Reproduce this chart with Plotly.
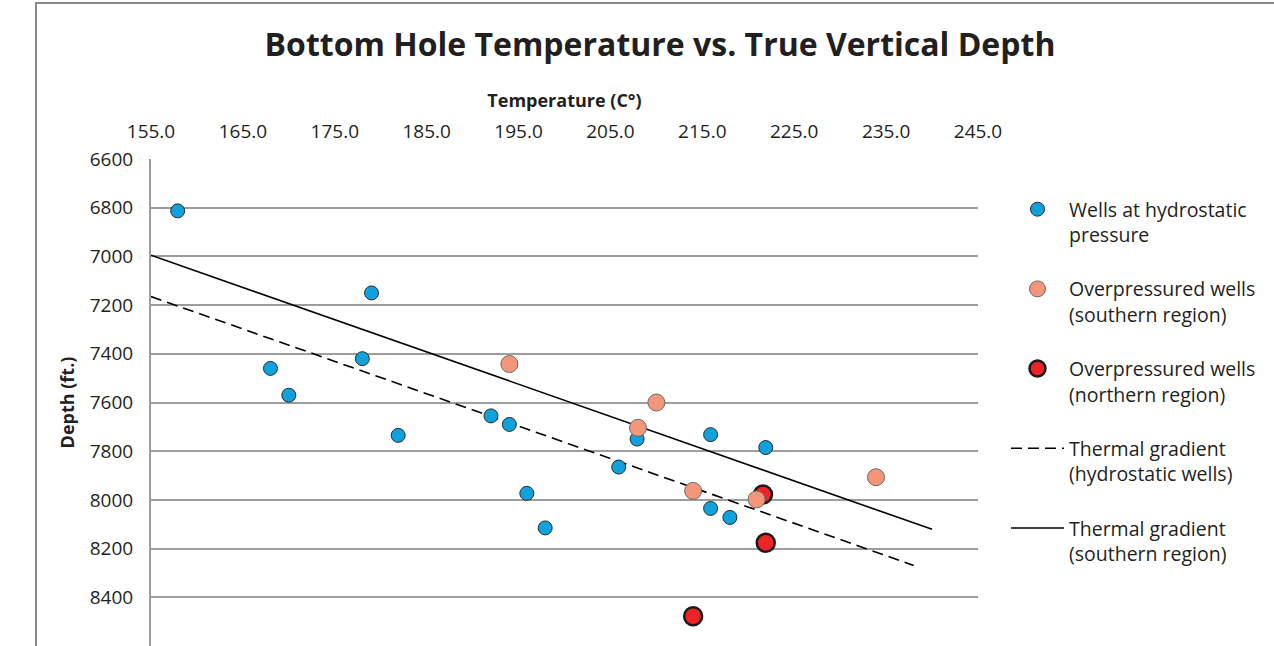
import plotly.graph_objects as go

# ---- data ----
hydro_temp = [157.9, 179.0, 168.0, 178.0, 170.0, 181.9, 192.0, 194.0, 195.9, 197.9,
              205.9, 207.9, 215.9, 221.9, 215.9, 218.0]
hydro_depth = [6813, 7150, 7460, 7420, 7570, 7735, 7655, 7690, 7973, 8115,
               7865, 7750, 7732, 7785, 8035, 8072]

south_temp = [194.0, 210.0, 208.0, 214.0, 220.9, 233.9]
south_depth = [7442, 7600, 7704, 7963, 7998, 7907]

north_temp = [221.6, 221.9, 214.0]
north_depth = [7978, 8176, 8478]

grad_hydro_temp = [155.0, 238.0]
grad_hydro_depth = [7165, 8269]

grad_south_temp = [155.0, 240.0]
grad_south_depth = [6995, 8121]

x_ticks = [155, 165, 175, 185, 195, 205, 215, 225, 235, 245]
y_ticks = [6600, 6800, 7000, 7200, 7400, 7600, 7800, 8000, 8200, 8400, 8600]

FONT = "Open Sans"
W, H = 1274, 646
L, R, T, B = 151, 296, 159, 0
pw, ph = W - L - R, H - T - B

def px(xp):
    return (xp - L) / pw

def py(yp):
    return (H - B - yp) / ph

fig = go.Figure()

fig.add_trace(go.Scatter(
    x=grad_hydro_temp, y=grad_hydro_depth, mode="lines",
    name="Thermal gradient<br>(hydrostatic wells)",
    line=dict(color="black", width=1.6, dash="11px,6px"),
    legendrank=4, legendgroup="d"))
fig.add_trace(go.Scatter(
    x=grad_south_temp, y=grad_south_depth, mode="lines",
    name="Thermal gradient<br>(southern region)",
    line=dict(color="black", width=1.6),
    legendrank=5, legendgroup="e"))
fig.add_trace(go.Scatter(
    x=hydro_temp, y=hydro_depth, mode="markers",
    name="Wells at hydrostatic<br>pressure",
    marker=dict(color="#0FA1DC", size=14, line=dict(color="#2b2b2b", width=1)),
    legendrank=1, legendgroup="a"))
fig.add_trace(go.Scatter(
    x=north_temp, y=north_depth, mode="markers",
    name="Overpressured wells<br>(northern region)",
    marker=dict(color="#EE2326", size=18, line=dict(color="#1a1a1a", width=2.5)),
    legendrank=3, legendgroup="c"))
fig.add_trace(go.Scatter(
    x=south_temp, y=south_depth, mode="markers",
    name="Overpressured wells<br>(southern region)",
    marker=dict(color="#F3967A", size=17, line=dict(color="#6a6a6a", width=1)),
    legendrank=2, legendgroup="b"))

fig.update_layout(
    width=W, height=H,
    margin=dict(l=L, r=R, t=T, b=B, pad=0),
    paper_bgcolor="white", plot_bgcolor="white",
    font=dict(family=FONT, color="#231f20"),
    title=dict(text="<b>Bottom Hole Temperature vs. True Vertical Depth</b>",
               x=660 / W, xanchor="center", y=1 - 45 / H, yanchor="middle",
               font=dict(size=32, family=FONT, color="#231f20")),
    showlegend=True,
    legend=dict(x=px(1006), xanchor="left", y=py(190), yanchor="top",
                font=dict(size=19.5, family=FONT, color="#231f20"),
                valign="top", tracegroupgap=26, itemwidth=53,
                bgcolor="rgba(0,0,0,0)"),
    xaxis=dict(side="top", range=[155, 245], tickvals=x_ticks,
               ticktext=[f"{v:.1f}" for v in x_ticks],
               showgrid=False, zeroline=False, showline=False,
               ticks="outside", ticklen=12, tickcolor="rgba(0,0,0,0)",
               tickfont=dict(size=19, family=FONT, color="#231f20"),
               title=dict(text="<b>Temperature (C°)</b>", standoff=6,
                          font=dict(size=18, family=FONT, color="#231f20"))),
    yaxis=dict(autorange=False, range=[8600, 6600], tickvals=y_ticks,
               showgrid=True, gridcolor="#9d9d9d", gridwidth=2,
               zeroline=False, showline=True, linecolor="#9d9d9d", linewidth=2,
               ticks="outside", ticklen=12, tickcolor="rgba(0,0,0,0)",
               tickfont=dict(size=19, family=FONT, color="#231f20"),
               title=dict(text="<b>Depth (ft.)</b>", standoff=10,
                          font=dict(size=18, family=FONT, color="#231f20"))),
    shapes=[dict(type="rect", xref="paper", yref="paper",
                 x0=px(36), x1=px(1290), y0=py(660), y1=py(3),
                 line=dict(color="#8a8a8a", width=2), layer="below")],
)

fig.write_html("out.html")
